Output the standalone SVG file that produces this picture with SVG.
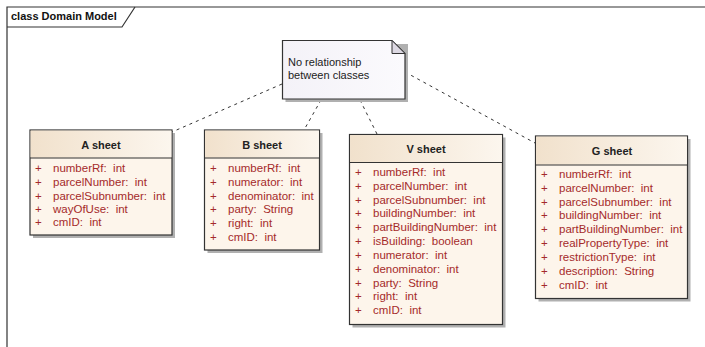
<svg xmlns="http://www.w3.org/2000/svg" width="705" height="347" viewBox="0 0 705 347" xml:space="preserve">
<defs>
<linearGradient id="hdr" x1="0" y1="0" x2="1" y2="0">
<stop offset="0" stop-color="#f1e1cc"/>
<stop offset="1" stop-color="#fcf6ee"/>
</linearGradient>
<linearGradient id="nt" x1="0" y1="0" x2="1" y2="0">
<stop offset="0" stop-color="#f4f2f8"/>
<stop offset="1" stop-color="#fbfafd"/>
</linearGradient>
<style>
.frame{fill:none;stroke:#333;stroke-width:1.2}
.ftxt{font-family:"Liberation Sans",Arial,sans-serif;font-size:11px;font-weight:bold;fill:#111}
.shadow{fill:#b0b0b0}
.body{fill:#fdf5eb;stroke:#333;stroke-width:1.2}
.head{fill:url(#hdr);stroke:none}
.div{stroke:#333;stroke-width:1.2}
.title{font-family:"Liberation Sans",Arial,sans-serif;font-size:11px;font-weight:bold;fill:#222;text-anchor:middle}
.attr text{font-family:"Liberation Sans",Arial,sans-serif;font-size:11.5px;fill:#a52a2a;white-space:pre}
.note{fill:url(#nt);stroke:#333;stroke-width:1.2}
.ntxt{font-family:"Liberation Sans",Arial,sans-serif;font-size:11px;fill:#222}
.conn{fill:none;stroke:#333;stroke-width:1;stroke-dasharray:3,4}
</style>
</defs>
<rect width="705" height="347" fill="#fff"/>
<g id="frame">
<path class="frame" d="M7,360 L7,7 L720,7"/>
<path class="frame" d="M7,27 L122,27 L135,7"/>
<text class="ftxt" x="11" y="20">class Domain Model</text>
</g>
<g id="connectors">
<line class="conn" x1="282" y1="84" x2="172" y2="132"/>
<line class="conn" x1="321" y1="100" x2="304" y2="130"/>
<line class="conn" x1="360" y1="100" x2="377" y2="134"/>
<line class="conn" x1="405" y1="72" x2="535" y2="143"/>
</g>
<g id="note">
<path class="shadow" d="M285.5,44 L408,44 L408,102 L285.5,102 Z"/>
<path class="note" d="M282.5,40.5 L392,40.5 L405,53.5 L405,99 L282.5,99 Z"/>
<path d="M392,40.5 L392,53.5 L405,53.5 Z" fill="#dcd8e2" stroke="#333" stroke-width="1"/>
<text class="ntxt" x="288" y="66">No relationship</text>
<text class="ntxt" x="288" y="79">between classes</text>
</g>
<g id="A_sheet">
<rect class="shadow" x="33" y="133" width="142" height="105"/>
<rect class="body" x="30" y="130" width="142" height="105"/>
<rect class="head" x="30.6" y="130.6" width="140.8" height="27"/>
<line class="div" x1="30" y1="158" x2="172" y2="158"/>
<text class="title" x="101" y="149">A sheet</text>
<g class="attr">
<text x="35" y="172">+</text><text x="53" y="172">numberRf:  int</text>
<text x="35" y="186">+</text><text x="53" y="186">parcelNumber:  int</text>
<text x="35" y="200">+</text><text x="53" y="200">parcelSubnumber:  int</text>
<text x="35" y="213">+</text><text x="53" y="213">wayOfUse:  int</text>
<text x="35" y="226">+</text><text x="53" y="226">cmID:  int</text>
</g>
</g>
<g id="B_sheet">
<rect class="shadow" x="207.5" y="133" width="115" height="120"/>
<rect class="body" x="204.5" y="130" width="115" height="120"/>
<rect class="head" x="205.1" y="130.6" width="113.8" height="27"/>
<line class="div" x1="204.5" y1="158" x2="319.5" y2="158"/>
<text class="title" x="262" y="149">B sheet</text>
<g class="attr">
<text x="210" y="172">+</text><text x="228" y="172">numberRf:  int</text>
<text x="210" y="186">+</text><text x="228" y="186">numerator:  int</text>
<text x="210" y="200">+</text><text x="228" y="200">denominator:  int</text>
<text x="210" y="213">+</text><text x="228" y="213">party:  String</text>
<text x="210" y="227">+</text><text x="228" y="227">right:  int</text>
<text x="210" y="241">+</text><text x="228" y="241">cmID:  int</text>
</g>
</g>
<g id="V_sheet">
<rect class="shadow" x="352.5" y="137.5" width="153" height="190"/>
<rect class="body" x="349.5" y="134.5" width="153" height="190"/>
<rect class="head" x="350.1" y="135.1" width="151.8" height="27"/>
<line class="div" x1="349.5" y1="162.5" x2="502.5" y2="162.5"/>
<text class="title" x="426" y="153">V sheet</text>
<g class="attr">
<text x="355" y="176">+</text><text x="373" y="176">numberRf:  int</text>
<text x="355" y="190">+</text><text x="373" y="190">parcelNumber:  int</text>
<text x="355" y="204">+</text><text x="373" y="204">parcelSubnumber:  int</text>
<text x="355" y="217">+</text><text x="373" y="217">buildingNumber:  int</text>
<text x="355" y="231">+</text><text x="373" y="231">partBuildingNumber:  int</text>
<text x="355" y="245">+</text><text x="373" y="245">isBuilding:  boolean</text>
<text x="355" y="259">+</text><text x="373" y="259">numerator:  int</text>
<text x="355" y="273">+</text><text x="373" y="273">denominator:  int</text>
<text x="355" y="287">+</text><text x="373" y="287">party:  String</text>
<text x="355" y="300">+</text><text x="373" y="300">right:  int</text>
<text x="355" y="314">+</text><text x="373" y="314">cmID:  int</text>
</g>
</g>
<g id="G_sheet">
<rect class="shadow" x="538.5" y="139" width="152" height="162.5"/>
<rect class="body" x="535.5" y="136" width="152" height="162.5"/>
<rect class="head" x="536.1" y="136.6" width="150.8" height="28"/>
<line class="div" x1="535.5" y1="165" x2="687.5" y2="165"/>
<text class="title" x="612" y="155">G sheet</text>
<g class="attr">
<text x="541" y="178">+</text><text x="559" y="178">numberRf:  int</text>
<text x="541" y="192">+</text><text x="559" y="192">parcelNumber:  int</text>
<text x="541" y="206">+</text><text x="559" y="206">parcelSubnumber:  int</text>
<text x="541" y="219">+</text><text x="559" y="219">buildingNumber:  int</text>
<text x="541" y="233">+</text><text x="559" y="233">partBuildingNumber:  int</text>
<text x="541" y="247">+</text><text x="559" y="247">realPropertyType:  int</text>
<text x="541" y="261">+</text><text x="559" y="261">restrictionType:  int</text>
<text x="541" y="275">+</text><text x="559" y="275">description:  String</text>
<text x="541" y="289">+</text><text x="559" y="289">cmID:  int</text>
</g>
</g>
</svg>
